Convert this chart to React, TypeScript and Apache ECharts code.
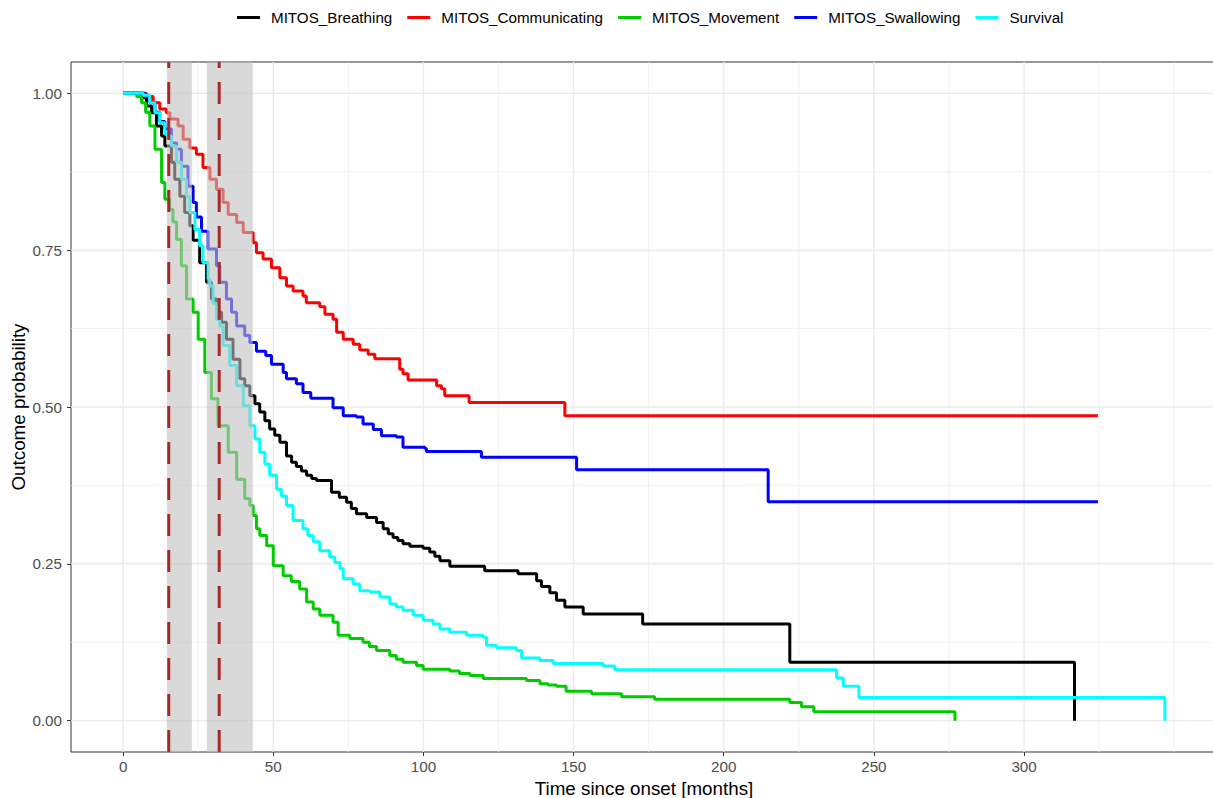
import React, { useEffect, useRef } from "react";
import * as echarts from "echarts";

const seriesNames = ["MITOS_Breathing", "MITOS_Communicating", "MITOS_Movement", "MITOS_Swallowing", "Survival"];
const seriesColors = ["#000000", "#FF0000", "#00CD00", "#0000FF", "#00FFFF"];

const breathing: number[][] = [
  [0, 1], [6.1, 0.993], [7.8, 0.98], [9.5, 0.969], [11.1, 0.948], [12.8, 0.932], [13.9, 0.916], [16.1, 0.89],
  [17.2, 0.863], [18.9, 0.836], [20.5, 0.81], [22.2, 0.789], [23.3, 0.766], [25.5, 0.73], [27.8, 0.699],
  [29.4, 0.672], [31.1, 0.651], [32.8, 0.635], [34.4, 0.608], [36.6, 0.576], [38.9, 0.545], [40.5, 0.534],
  [42.2, 0.518], [43.9, 0.505], [45.5, 0.492], [47.2, 0.478], [48.8, 0.465], [50.5, 0.455], [52.2, 0.444],
  [54.4, 0.422], [56.1, 0.412], [57.7, 0.405], [59.4, 0.398], [61.1, 0.391], [62.8, 0.386], [64.4, 0.383],
  [69.4, 0.364], [72, 0.356], [74.4, 0.348], [76, 0.338], [77.7, 0.33], [81.1, 0.324], [84.4, 0.316],
  [86.6, 0.306], [88.3, 0.298], [89.9, 0.292], [91.5, 0.287], [93.2, 0.282], [95.5, 0.278], [99.9, 0.275],
  [102.1, 0.269], [103.8, 0.262], [105.5, 0.255], [108.8, 0.246], [120.4, 0.239], [131.5, 0.234],
  [137.7, 0.223], [139.3, 0.214], [142.1, 0.204], [144.3, 0.192], [147.1, 0.181], [153.2, 0.17],
  [173, 0.154], [222, 0.093], [316.8, 0.093], [316.8, 0],
];

const communicating: number[][] = [
  [0, 1], [7.8, 0.995], [10, 0.985], [12.2, 0.975], [14.4, 0.969], [15.6, 0.959], [18.3, 0.948], [20, 0.927],
  [22.2, 0.913], [24.4, 0.903], [26.6, 0.882], [28.9, 0.863], [31.1, 0.847], [33.3, 0.826], [35, 0.807],
  [37.8, 0.794], [40, 0.778], [43.3, 0.762], [44.4, 0.746], [46.6, 0.736], [49.4, 0.722], [52.2, 0.706],
  [54.4, 0.693], [56.6, 0.685], [59.9, 0.677], [61, 0.666], [65.5, 0.66], [67.2, 0.648], [69.9, 0.64],
  [71.1, 0.619], [73.3, 0.608], [76.6, 0.6], [78.8, 0.591], [81.6, 0.584], [83.8, 0.577], [92.1, 0.56],
  [93.2, 0.553], [94.9, 0.543], [104.4, 0.534], [106, 0.529], [107.1, 0.518], [115.2, 0.507],
  [147.1, 0.486], [324.6, 0.486],
];

const movement: number[][] = [
  [0, 1], [4.5, 0.995], [6.1, 0.985], [7.5, 0.97], [8.9, 0.948], [10.6, 0.911], [12.8, 0.858], [13.9, 0.831],
  [15.5, 0.815], [16.6, 0.795], [17.8, 0.767], [19.4, 0.725], [21.1, 0.672], [23.3, 0.651], [25, 0.608],
  [27.2, 0.555], [29.4, 0.513], [31.6, 0.47], [35, 0.428], [37.8, 0.385], [40.5, 0.354], [42.2, 0.343],
  [43.3, 0.327], [44.4, 0.306], [45.5, 0.295], [47.8, 0.279], [50, 0.247], [53.3, 0.231], [56, 0.222],
  [58.8, 0.21], [61.1, 0.189], [63.3, 0.178], [65.5, 0.168], [69.9, 0.157], [71.6, 0.136], [75.5, 0.131],
  [79.9, 0.125], [82, 0.118], [84.4, 0.112], [88.8, 0.104], [91, 0.098], [93.2, 0.093], [97.7, 0.088],
  [99.9, 0.082], [108.8, 0.079], [112, 0.075], [115.5, 0.072], [119.9, 0.067], [134.3, 0.064],
  [138.8, 0.059], [141.5, 0.057], [144.3, 0.055], [147.5, 0.047], [156, 0.043], [166, 0.038], [177, 0.034],
  [222, 0.029], [225.9, 0.022], [230, 0.014], [277, 0.014], [277, 0],
];

const swallowing: number[][] = [
  [0, 1], [7, 0.995], [9, 0.985], [10.6, 0.97], [12.2, 0.955], [13.9, 0.943], [16.1, 0.921], [17.8, 0.911],
  [19.4, 0.884], [21.6, 0.852], [23.3, 0.826], [24.4, 0.803], [26.1, 0.78], [28.3, 0.752], [31.1, 0.725],
  [32.2, 0.699], [34.4, 0.672], [36.1, 0.651], [37.8, 0.629], [40.5, 0.614], [42.2, 0.603], [44.4, 0.589],
  [47.5, 0.582], [49.4, 0.568], [53.3, 0.555], [54.4, 0.545], [57.7, 0.537], [59.9, 0.523], [62.5, 0.514],
  [69.9, 0.499], [73.3, 0.486], [77.7, 0.484], [79.9, 0.473], [83.3, 0.464], [86, 0.454], [91, 0.452],
  [93.2, 0.436], [100.5, 0.434], [101, 0.429], [119.3, 0.42], [151, 0.4], [214.8, 0.349], [324.6, 0.349],
];

const survival: number[][] = [
  [0, 1], [6.7, 0.997], [8.9, 0.985], [10.6, 0.969], [12.2, 0.953], [13.9, 0.935], [15, 0.932], [16.1, 0.916],
  [17.8, 0.89], [19.4, 0.863], [21.1, 0.836], [22.2, 0.81], [23.9, 0.783], [25.5, 0.757], [26.6, 0.73],
  [28.3, 0.704], [28.9, 0.693], [30, 0.665], [31.1, 0.64], [32.2, 0.629], [33.3, 0.598], [35.5, 0.566],
  [37.8, 0.534], [40, 0.502], [42.2, 0.47], [43.9, 0.449], [45.5, 0.428], [47.2, 0.409], [48.8, 0.391],
  [51.1, 0.369], [52.7, 0.358], [54.4, 0.343], [56.6, 0.319], [59.9, 0.306], [61.5, 0.295], [63.3, 0.285],
  [65.5, 0.271], [68.8, 0.261], [70.5, 0.252], [72.2, 0.242], [73.3, 0.226], [76.6, 0.218], [78.8, 0.207],
  [82.2, 0.205], [85.5, 0.197], [88.8, 0.186], [91, 0.181], [93.2, 0.176], [96.6, 0.168], [99.9, 0.16],
  [103.2, 0.154], [105.5, 0.146], [108.8, 0.141], [114.4, 0.136], [119.9, 0.133], [121, 0.12],
  [124.3, 0.116], [131, 0.112], [132.7, 0.1], [138.8, 0.096], [143.2, 0.091], [159.8, 0.087],
  [163.7, 0.081], [237.6, 0.068], [239.8, 0.055], [245, 0.037], [346.9, 0.037], [346.9, 0],
];

const allSeries = [breathing, communicating, movement, swallowing, survival];

// shaded intervals [start, end] in months and dashed reference lines
const bandIntervals: number[][] = [[14.6, 22.9], [27.9, 43.2]];
const dashedLines: number[] = [15.2, 32.0];

const xTickValues = [0, 50, 100, 150, 200, 250, 300];
const yTickValues = [0, 0.25, 0.5, 0.75, 1];
const xMinorGrid = [25, 75, 125, 175, 225, 275, 325, 350];
const yMinorGrid = [0.125, 0.375, 0.625, 0.875];

const X_MIN = -17.35;
const X_MAX = 364.25;
const Y_MIN = -0.05;
const Y_MAX = 1.05;

const FONT = "Liberation Sans, Arial, sans-serif";

export default function App() {
  const ref = useRef<HTMLDivElement>(null);

  useEffect(() => {
    const chart = echarts.init(ref.current!, null, { renderer: "svg" });

    const gridData: number[][] = [
      ...xTickValues.map((v) => [v, 0.5, 0, 1]),
      ...xMinorGrid.map((v) => [v, 0.5, 0, 0]),
      ...yTickValues.map((v) => [100, v, 1, 1]),
      ...yMinorGrid.map((v) => [100, v, 1, 0]),
    ];

    const option: any = {
      animation: false,
      backgroundColor: "#ffffff",
      textStyle: { fontFamily: FONT },
      legend: {
        data: seriesNames,
        top: 10,
        left: 237,
        padding: 0,
        icon: "rect",
        itemWidth: 23,
        itemHeight: 3,
        itemGap: 15,
        textStyle: { fontSize: 15.2, color: "#000000", fontFamily: FONT, padding: [0, 0, 0, 6] },
      },
      grid: {
        left: 71,
        top: 62,
        width: 1146,
        height: 690,
        show: true,
        borderColor: "#333333",
        borderWidth: 1,
        backgroundColor: "transparent",
        containLabel: false,
        outerBoundsMode: "none",
      },
      xAxis: {
        type: "value",
        min: X_MIN,
        max: X_MAX,
        name: "Time since onset [months]",
        nameLocation: "middle",
        nameGap: 27,
        nameMoveOverlap: false,
        nameTextStyle: { fontSize: 18.8, color: "#000000", fontFamily: FONT },
        axisLine: { show: false, onZero: false },
        splitLine: { show: false },
        axisTick: { show: true, customValues: xTickValues, length: 4, lineStyle: { color: "#333333", width: 1 } },
        axisLabel: {
          customValues: xTickValues,
          fontSize: 15.2,
          color: "#4d4d4d",
          margin: 7,
          fontFamily: FONT,
        },
      },
      yAxis: {
        type: "value",
        min: Y_MIN,
        max: Y_MAX,
        name: "Outcome probability",
        nameLocation: "middle",
        nameGap: 43,
        nameMoveOverlap: false,
        nameTextStyle: { fontSize: 18.8, color: "#000000", fontFamily: FONT },
        axisLine: { show: false, onZero: false },
        splitLine: { show: false },
        axisTick: { show: true, customValues: yTickValues, length: 4, lineStyle: { color: "#333333", width: 1 } },
        axisLabel: {
          customValues: yTickValues,
          fontSize: 15.2,
          color: "#4d4d4d",
          margin: 9,
          fontFamily: FONT,
          formatter: (v: number) => v.toFixed(2),
        },
      },
      series: [
        {
          type: "custom",
          name: "grid",
          silent: true,
          z: 0,
          data: gridData,
          renderItem: (_p: any, api: any) => {
            const vertical = api.value(2) === 0;
            const major = api.value(3) === 1;
            let a, b;
            if (vertical) {
              a = api.coord([api.value(0), Y_MIN]);
              b = api.coord([api.value(0), Y_MAX]);
            } else {
              a = api.coord([X_MIN, api.value(1)]);
              b = api.coord([X_MAX, api.value(1)]);
            }
            return {
              type: "line",
              shape: { x1: a[0], y1: a[1], x2: b[0], y2: b[1] },
              style: { stroke: "#ebebeb", lineWidth: major ? 1.4 : 0.7 },
            };
          },
        },
        ...allSeries.map((d, i) => ({
          type: "line",
          name: seriesNames[i],
          data: d,
          step: "end",
          showSymbol: false,
          symbol: "none",
          z: 2,
          lineStyle: { color: seriesColors[i], width: 3 },
          itemStyle: { color: seriesColors[i] },
        })),
        {
          type: "custom",
          name: "bands",
          silent: true,
          z: 5,
          data: bandIntervals,
          encode: { x: [0, 1] },
          renderItem: (_p: any, api: any) => {
            const a = api.coord([api.value(0), Y_MAX]);
            const b = api.coord([api.value(1), Y_MIN]);
            return {
              type: "rect",
              shape: { x: a[0], y: a[1], width: b[0] - a[0], height: b[1] - a[1] },
              style: { fill: "rgba(192,192,192,0.6)" },
            };
          },
        },
        {
          type: "custom",
          name: "dashed",
          silent: true,
          z: 6,
          data: dashedLines.map((v) => [v, 0.5]),
          renderItem: (_p: any, api: any) => {
            const a = api.coord([api.value(0), Y_MIN]);
            const b = api.coord([api.value(0), Y_MAX]);
            return {
              type: "line",
              shape: { x1: a[0], y1: a[1], x2: b[0], y2: b[1] },
              style: { stroke: "#A52A2A", lineWidth: 3, lineDash: [22, 14] },
            };
          },
        },
      ],
    };

    chart.setOption(option);
    return () => chart.dispose();
  }, []);

  return (
    <div
      ref={ref}
      style={{ position: "fixed", left: 0, top: 0, width: 1213, height: 798, background: "#fff" }}
    />
  );
}
